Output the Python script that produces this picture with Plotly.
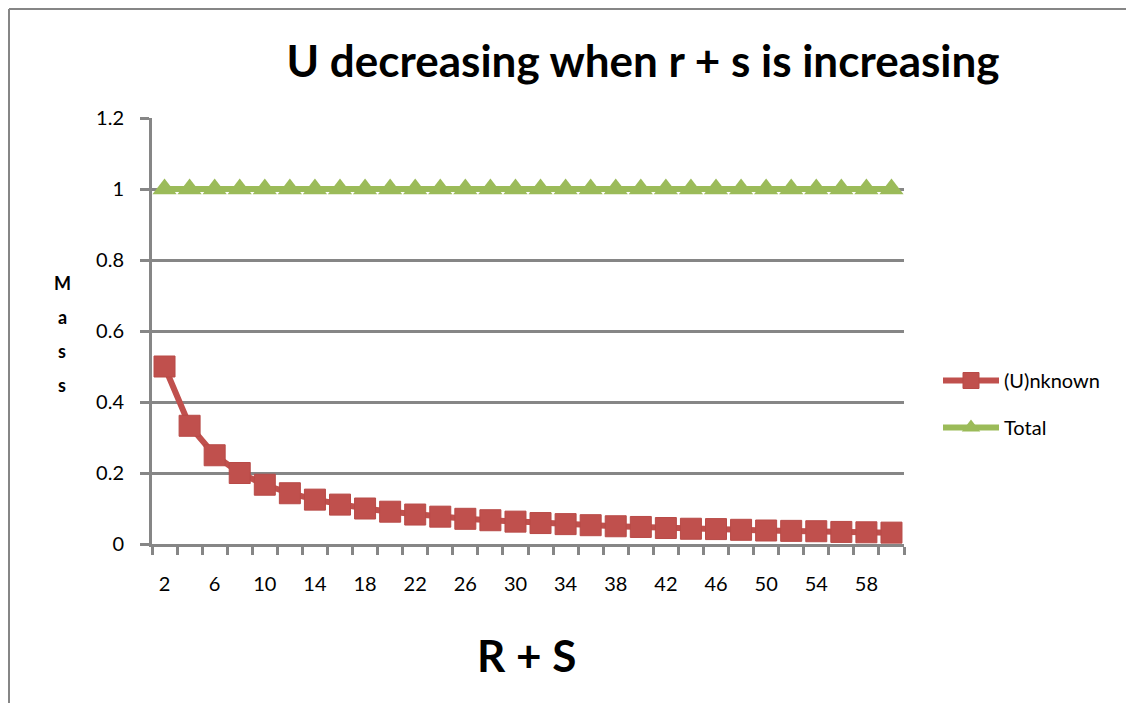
import plotly.graph_objects as go

# ---- data ----
r_plus_s = [2, 4, 6, 8, 10, 12, 14, 16, 18, 20, 22, 24, 26, 28, 30,
            32, 34, 36, 38, 40, 42, 44, 46, 48, 50, 52, 54, 56, 58, 60]
unknown = [0.5, 0.333, 0.25, 0.2, 0.167, 0.143, 0.125, 0.111, 0.1, 0.091,
           0.083, 0.077, 0.071, 0.067, 0.063, 0.059, 0.056, 0.053, 0.05, 0.048,
           0.045, 0.043, 0.042, 0.04, 0.038, 0.037, 0.036, 0.034, 0.033, 0.032]
total = [1, 1, 1, 1, 1, 1, 1, 1, 1, 1, 1, 1, 1, 1, 1,
         1, 1, 1, 1, 1, 1, 1, 1, 1, 1, 1, 1, 1, 1, 1]
x_tick_labels = ["2", "6", "10", "14", "18", "22", "26", "30", "34", "38",
                 "42", "46", "50", "54", "58"]
y_tick_values = [0, 0.2, 0.4, 0.6, 0.8, 1.0, 1.2]
y_tick_labels = ["0", "0.2", "0.4", "0.6", "0.8", "1", "1.2"]
series_names = ["(U)nknown", "Total"]
title_text = "U decreasing when r + s is increasing"
x_title = "R + S"
y_title_letters = ["M", "a", "s", "s"]

FONT = "Lato, Open Sans, sans-serif"
GRAY = "#868686"
RED = "#C0504D"
GREEN = "#9BBB59"

PAGE_W, PAGE_H = 1134, 711
OFF = 8  # page body margin
W, H = PAGE_W - 2 * OFF, PAGE_H - 2 * OFF
# plot area in page pixels: x 152..904, y 118..544
L, T = 152 - OFF, 118 - OFF
pw, ph = 752, 426
R, B = W - L - pw, H - T - ph

def px_x(p):
    return (p - OFF - L) / pw

def px_y(p):
    return (T + ph - (p - OFF)) / ph

fig = go.Figure()
fig.add_trace(go.Scatter(
    x=r_plus_s, y=unknown, name=series_names[0], mode="lines+markers",
    legendgroup="u",
    line=dict(color=RED, width=6),
    marker=dict(symbol="square", size=21, color=RED,
                line=dict(color="#B84A47", width=1)),
))
fig.add_trace(go.Scatter(
    x=r_plus_s, y=total, name=series_names[1], mode="lines+markers",
    legendgroup="t",
    line=dict(color=GREEN, width=6),
    marker=dict(symbol="triangle-up", size=21, color=GREEN),
))

boundaries = [v - 1 for v in r_plus_s] + [r_plus_s[-1] + 1]

fig.update_layout(
    width=W, height=H,
    margin=dict(l=L, r=R, t=T, b=B),
    paper_bgcolor="white", plot_bgcolor="white",
    font=dict(family=FONT, size=20, color="black"),
    title=dict(text="<b>" + title_text + "</b>", font=dict(size=44, family=FONT),
               x=px_x(643), xref="paper", xanchor="center",
               y=1 - (62 - OFF) / H, yref="container", yanchor="middle"),
    showlegend=True,
    legend=dict(x=px_x(938), y=px_y(361), xanchor="left", yanchor="top",
                font=dict(size=20), bgcolor="rgba(0,0,0,0)",
                tracegroupgap=18, itemwidth=56),
    xaxis=dict(
        range=[boundaries[0], boundaries[-1]],
        tickvals=[int(t) for t in x_tick_labels], ticktext=x_tick_labels,
        ticks="outside", ticklen=0, tickcolor=GRAY,
        showgrid=False, zeroline=False,
        showline=True, linecolor=GRAY, linewidth=3,
        tickfont=dict(size=20), ticklabelstandoff=20,
        minor=dict(tickvals=boundaries, ticks="outside", ticklen=8,
                   tickwidth=3, tickcolor=GRAY, showgrid=False),
    ),
    yaxis=dict(
        range=[0, 1.2], tickvals=y_tick_values, ticktext=y_tick_labels,
        ticks="outside", ticklen=9, tickwidth=3, tickcolor=GRAY,
        showgrid=True, gridcolor=GRAY, gridwidth=3,
        zeroline=False, showline=True, linecolor=GRAY, linewidth=3,
        tickfont=dict(size=20), ticklabelstandoff=12,
    ),
)

# x-axis title
fig.add_annotation(text="<b>" + x_title + "</b>", xref="paper", yref="paper",
                   x=px_x(526), y=px_y(655), showarrow=False,
                   font=dict(size=44, family=FONT), xanchor="center", yanchor="middle")
# y-axis title, stacked letters
for i, ch in enumerate(y_title_letters):
    fig.add_annotation(text="<b>" + ch + "</b>", xref="paper", yref="paper",
                       x=px_x(62), y=px_y(283 + 34 * i), showarrow=False,
                       font=dict(size=18, family=FONT), xanchor="center", yanchor="middle")

# chart-area border (left and top visible)
fig.add_shape(type="line", xref="paper", yref="paper",
              x0=px_x(OFF + 1), x1=px_x(OFF + 1), y0=px_y(OFF + 1), y1=px_y(PAGE_H + 40),
              line=dict(color=GRAY, width=2))
fig.add_shape(type="line", xref="paper", yref="paper",
              x0=px_x(OFF + 1), x1=px_x(PAGE_W + 40), y0=px_y(OFF + 1), y1=px_y(OFF + 1),
              line=dict(color=GRAY, width=2))

fig.write_html("out.html")
